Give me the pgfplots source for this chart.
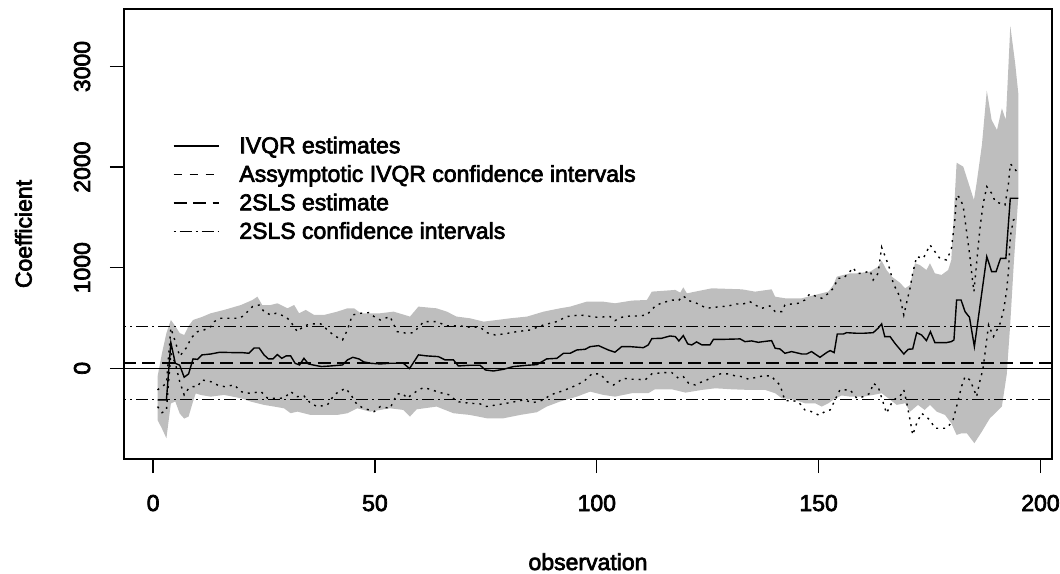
\documentclass[border=0pt]{standalone}
\usepackage{fontspec}
\setmainfont{Liberation Sans}[FakeBold=3]
\usepackage{pgfplots}
\pgfplotsset{compat=1.18}
\usepackage{pgfplotstable}

\definecolor{band}{RGB}{190,190,190}
\newcommand\fnt{\fontsize{23bp}{28bp}\selectfont}

% IVQR point estimates
\pgfplotstableread{
obs val
1 -315
2 -315
3 -315
4 255
5 50
6 30
7 -89
8 -56
9 93
10 89
11 133
13 142
15 159
18 156
20 156
21.6 149
22.8 202
23.9 202
25 133
26 93
27 93
28 136
29 99
30 123
31 123
32 50
33 33
34 99
35 43
36.7 27
38 17
40 23
42.7 33
43.8 83
45 109
46.4 93
47.5 63
49 50
51.2 43
53.4 50
56.4 50
57.8 -3
59.8 133
61.7 123
64.3 116
65.8 83
67.7 83
68.8 23
71.4 30
73.7 30
74.9 -17
76.7 -27
79 -10
81.2 17
84.3 30
86.5 36
88.7 93
91 99
92.5 149
94 149
95.5 182
97.4 189
98.5 215
100.4 225
102.6 182
104.1 160
105.6 215
107.5 215
110.5 205
111.6 232
112.4 295
114.6 298
116.5 321
117.7 315
118.5 272
119.5 325
120.5 242
121.4 232
122.5 262
123.7 232
125.5 232
126.3 288
128.9 288
132.3 292
133.4 265
134.9 272
136.4 258
137.5 265
139.4 275
140.2 199
141.3 192
142.4 149
143.9 166
146.2 142
147.3 142
148.4 166
150.3 109
151.8 156
152.6 176
153.5 156
154.2 341
155.6 341
156.3 354
158.6 348
160.1 348
162.3 354
163.4 398
164.2 441
164.9 315
166.1 315
167.2 248
169.2 142
170.2 189
171.2 192
172.1 354
173.2 331
174.3 275
175.2 364
176.2 255
178.8 255
179.9 265
180.5 282
181.1 679
182.1 679
183 563
184 507
185.1 215
187.9 1110
189 961
190 961
191 1093
192.2 1093
193.2 1690
195 1690
}\ivqr

% grey band, upper edge
\pgfplotstableread{
obs val
1 -83
2 150
3 350
4 480
5 420
6 350
7 331
8 420
9 480
11 510
13 547
16 580
19.8 629
22.4 679
23.5 712
24.6 629
26.5 629
28 646
30.3 596
31.8 629
32.9 547
34.4 580
36.3 530
38.5 530
41.5 563
43.8 596
45.3 596
46.8 547
49.8 547
51.2 547
54.2 563
57.9 514
59.8 613
63.9 596
66.2 563
68.4 514
71.4 497
74.5 464
77.5 480
80.5 497
84.3 514
88 563
91.7 596
94 613
97.7 662
101.5 662
104.1 646
107.9 673
111.3 679
112.4 762
117.7 779
118.8 752
119.5 805
120.3 745
122.2 762
125.9 795
132.7 785
135.7 762
139.4 785
140.2 712
142.4 696
146.2 696
149.2 729
152.2 762
153.3 828
154.1 911
157.1 944
158.6 944
161.6 961
163.4 1010
164.2 1070
165.3 977
166.5 911
168.3 851
169.5 795
170.6 828
171.7 1044
172.8 1027
174.3 977
175.1 1044
176.2 944
177.7 928
179.2 977
179.9 1077
181.1 2044
182.6 2004
183.8 1839
185 1673
185.6 1839
186.8 2220
187.9 2760
189 2468
190.2 2369
191.3 2584
192.2 2468
193.2 3403
194.3 3031
195 2733
}\bandup

% grey band, lower edge
\pgfplotstableread{
obs val
1 -514
2 -600
3 -696
4 -350
5 -330
6 -450
7 -500
8 -480
9 -330
9.6 -250
10.7 -265
13 -282
16 -265
19.8 -298
22 -331
25 -364
27.3 -381
29.5 -398
31 -447
32.5 -431
35.5 -464
38.5 -464
41.5 -464
43.8 -447
46 -398
48.9 -431
53.4 -398
56.4 -414
57.9 -480
59.4 -408
63.9 -381
67.7 -447
71.4 -464
75.2 -497
79 -497
82.7 -464
86.5 -437
88.7 -381
91.7 -331
95.5 -282
98.5 -232
101.5 -265
104.1 -282
107.9 -248
111.6 -248
113.1 -209
116.9 -209
120 -242
123.7 -215
126.7 -199
130.4 -209
134.2 -215
137.9 -215
140.2 -248
141.7 -298
144.7 -315
146.9 -348
149.2 -348
150.7 -381
152.2 -348
153.7 -300
155.2 -270
157.1 -282
160.1 -282
162.3 -265
164.2 -248
165.7 -298
167.6 -364
169.5 -348
170.6 -431
172.4 -364
173.9 -414
175.1 -364
176.6 -431
178.5 -464
179.9 -547
181.1 -663
182.2 -646
183.4 -646
185.1 -745
186.8 -629
188.6 -497
189.8 -447
191.3 -381
192.4 -60
193.2 450
194 1050
195 1700
}\bandlo

% asymptotic IVQR interval, upper
\pgfplotstableread{
obs val
1 -215
2 -182
3 -150
4 400
5 265
6 120
7.7 215
8.5 298
10 364
11.5 381
13 414
13.75 464
15.25 497
16.75 497
19 497
20.1 514
21.3 563
22.4 613
23.9 629
25 563
26.5 530
27.65 547
28.8 530
29.9 514
31 464
32.5 364
34 421
35.5 441
37.8 441
39.7 364
41.2 315
42.7 282
43.8 381
44.9 530
46.8 547
48.7 553
49.8 514
51.2 480
53.4 514
55 364
57.2 348
58.7 354
61 464
63.9 464
66.2 421
69.2 421
71.4 408
73.7 408
75.2 354
77.1 331
79 341
82 364
85 381
88 431
91 464
93.2 514
96.2 530
100 507
103 514
104.1 474
105.6 507
107.5 520
109.4 520
111.3 530
112.4 586
113.5 629
115 653
116.9 679
118.4 673
119.5 719
120.7 673
122.2 653
123.3 629
124.8 596
126.3 606
128.2 613
129.7 620
131.5 639
133 639
134.5 663
135.7 629
137.2 596
139 620
140.2 563
141.7 563
142.4 629
143.9 639
145.4 646
146.9 679
148 739
149.2 719
150.7 696
152.2 745
153.3 795
154.4 895
155.6 895
156.7 944
157.8 1000
158.6 944
160.1 944
161.6 971
162.3 878
163.4 944
164.2 1203
165.3 1077
166.1 977
166.8 845
168.3 712
169.2 530
169.8 646
170.6 795
171.2 944
172.1 1110
173.6 1093
175.1 1226
176.2 1160
177.3 1093
178.8 1077
179.9 1176
180.7 1474
181.1 1723
181.9 1690
182.6 1607
183.4 1342
184.1 1110
184.5 944
185 762
185.6 1044
186.4 1408
187.1 1640
187.9 1806
189 1739
189.8 1657
190.9 1640
192 1623
192.8 1839
193.2 2031
193.9 2004
195 1930
}\ciup

% asymptotic IVQR interval, lower
\pgfplotstableread{
obs val
1 -381
2 -441
3 -420
4 150
5 50
6 -133
7 -265
8 -200
9 -182
10 -182
11 -116
13 -133
14.5 -166
16 -182
18.3 -166
19.8 -232
21.3 -248
22.9 -242
24.3 -232
25.8 -298
27.3 -298
28.8 -298
29.9 -282
31 -232
32.5 -282
34 -275
35.5 -348
37 -381
39.3 -364
40.8 -265
41.9 -232
43.4 -199
44.6 -265
46 -364
47.5 -398
49.8 -431
51.2 -381
53.4 -398
55 -255
56.4 -255
57.2 -298
59.8 -215
61 -192
62.4 -209
64.7 -242
66.9 -265
68.4 -331
71.4 -348
73.7 -354
74.9 -381
77.5 -364
80.5 -341
83.5 -315
85.7 -341
88 -315
89.5 -265
92.5 -222
94.7 -182
97 -133
98.9 -56
100.8 -56
102.3 -133
103.8 -166
106 -99
107.5 -109
109 -109
110.9 -116
112.4 -56
113.5 -50
115.4 -43
116.9 -43
118.4 -99
119.5 -83
120.7 -149
122.2 -166
123.3 -142
124.8 -116
126.3 -83
127.8 -56
129.7 -56
131.2 -76
132.7 -83
134.2 -109
136 -89
137.5 -76
139.4 -76
140.2 -123
141.3 -166
142 -265
142.4 -321
143.9 -321
145.4 -331
146.9 -414
148.4 -431
150.1 -467
151.4 -431
152.6 -414
153.7 -315
154.8 -215
157.1 -215
158.6 -298
160.1 -282
161.6 -248
162.3 -149
163.4 -182
164.6 -348
165.3 -447
166.8 -315
168.3 -282
169.2 -215
169.8 -331
170.6 -514
171.2 -663
172.1 -547
173.2 -447
175.1 -514
176.2 -596
177.3 -596
178.8 -596
180.2 -530
181.1 -381
182.2 -182
183 -83
184.1 -116
184.9 -199
185.6 -282
186.4 -116
187 -17
187.5 149
188.3 431
189.4 315
190.2 381
190.9 447
191.7 580
192.4 779
192.8 977
193.2 1309
193.9 1474
195 1507
}\cilo

% closed polygon for the band: upper edge, then lower edge backwards
\pgfplotstablesort[sort key=obs, sort cmp=float >]{\bandlorev}{\bandlo}
\pgfplotstablevertcat{\bandup}{\bandlorev}

\begin{document}
\begin{tikzpicture}
\path[use as bounding box] (0,0) rectangle (1060bp,574bp);
\begin{axis}[
  at={(124bp,115bp)}, anchor=south west,
  scale only axis, width=928bp, height=450bp,
  xmin=-6.56, xmax=202.6, ymin=-902, ymax=3572,
  xtick={0,50,100,150,200}, ytick={0,1000,2000,3000},
  xtick pos=bottom, ytick pos=left,
  tick align=outside, major tick length=14bp,
  every tick/.style={black, line width=1.4bp},
  axis line style={line width=1.4bp},
  /pgf/number format/1000 sep={},
  /pgf/number format/assume math mode=true,
  ticklabel style={font=\fnt},
  xticklabel style={anchor=base, yshift=-38bp},
  yticklabel style={xshift=-20bp, rotate=90, anchor=base},
  xlabel={observation}, ylabel={Coefficient},
  xlabel style={at={(axis description cs:0.5,-0.2467)}, anchor=base, font=\fnt},
  ylabel style={at={(axis description cs:-0.0995,0.5)}, anchor=base, font=\fnt},
  legend style={at={(axis description cs:0.0528,0.7171)}, anchor=north west,
    draw=none, fill=none, inner sep=0pt, outer sep=0pt, row sep=0pt,
    font=\fnt, nodes={inner sep=0pt, text height=17bp, text depth=11.5bp},
    /tikz/every odd column/.append style={column sep=20bp}},
  legend cell align=left,
  legend image code/.code={\draw[#1, line width=1.4bp] (0bp,4.5bp) -- (45bp,4.5bp);},
]
\addplot[fill=band, draw=none, forget plot] table {\bandup} -- cycle;

\addplot[black, line width=1.4bp, forget plot] coordinates {(-20,0) (220,0)};
\addplot[black, line width=1.4bp, dash pattern=on 13bp off 6.5bp, forget plot] coordinates {(-20,53) (220,53)};
\addplot[black, line width=1.4bp, dash pattern=on 2bp off 4bp on 12bp off 4bp, forget plot] coordinates {(-20,417) (220,417)};
\addplot[black, line width=1.4bp, dash pattern=on 2bp off 4bp on 12bp off 4bp, forget plot] coordinates {(-20,-312) (220,-312)};

\addplot[black, line width=1.4bp, dash pattern=on 2bp off 5bp, forget plot] table {\ciup};
\addplot[black, line width=1.4bp, dash pattern=on 2bp off 5bp, forget plot] table {\cilo};
\addplot[black, line width=1.4bp, forget plot] table {\ivqr};

\addlegendimage{black, solid}
\addlegendentry{IVQR estimates}
\addlegendimage{black, dash pattern=on 8bp off 8bp}
\addlegendentry{Assymptotic IVQR confidence intervals}
\addlegendimage{black, dash pattern=on 13bp off 6.5bp}
\addlegendentry{2SLS estimate}
\addlegendimage{black, dash pattern=on 2bp off 4bp on 12bp off 4bp}
\addlegendentry{2SLS confidence intervals}
\end{axis}
\end{tikzpicture}
\end{document}
